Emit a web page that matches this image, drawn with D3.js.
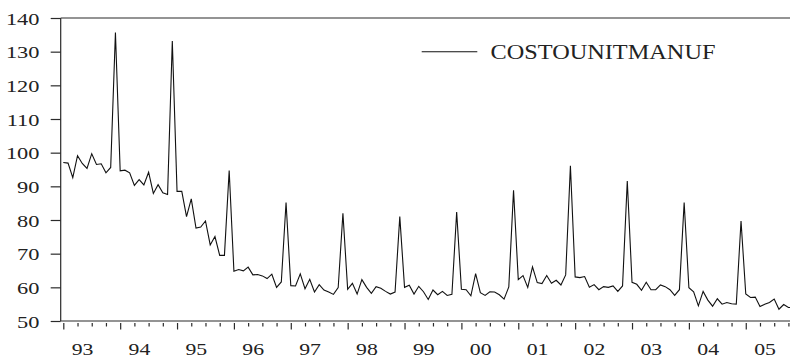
<!DOCTYPE html>
<html>
<head>
<meta charset="utf-8">
<script src="https://cdn.jsdelivr.net/npm/d3@7"></script>
<style>
  html, body { margin: 0; padding: 0; background: #fff; overflow: hidden; }
  svg { display: block; }
  text { font-family: "Liberation Serif", "Times New Roman", serif; fill: #222; }
</style>
</head>
<body>
<svg id="chart" width="790" height="359"></svg>
<script>
// ---- data (monthly, starting Jan 1993) ----
const seriesName = "COSTOUNITMANUF";
const startYear = 1993;
const costUnitManuf = [
  97.1, 96.9, 92.6, 99.1, 96.8, 95.3, 99.7, 96.5, 96.7, 94.0, 95.6, 135.7,   // 93
  94.6, 94.8, 94.0, 90.3, 92.0, 90.4, 94.2, 87.9, 90.5, 88.1, 87.6, 133.2,   // 94
  88.5, 88.5, 81.0, 86.3, 77.6, 77.9, 79.7, 72.6, 75.1, 69.5, 69.5, 94.7,    // 95
  64.8, 65.3, 64.9, 66.0, 63.7, 63.8, 63.4, 62.6, 63.9, 60.0, 61.6, 85.2,    // 96
  60.5, 60.4, 64.0, 59.6, 62.4, 58.6, 60.8, 59.2, 58.6, 57.9, 59.9, 82.0,    // 97
  59.4, 61.2, 58.0, 62.3, 60.0, 58.2, 60.2, 59.7, 58.8, 58.0, 58.6, 81.0,    // 98
  60.0, 60.6, 58.0, 60.3, 58.7, 56.4, 59.2, 57.8, 58.8, 57.6, 57.9, 82.4,    // 99
  59.4, 59.3, 57.5, 64.1, 58.4, 57.6, 58.7, 58.6, 57.8, 56.5, 60.1, 88.8,    // 00
  62.3, 63.5, 60.0, 66.1, 61.4, 61.1, 63.5, 61.2, 62.1, 60.7, 63.7, 96.1,    // 01
  63.1, 62.9, 63.2, 60.0, 60.8, 59.3, 60.2, 60.0, 60.4, 58.8, 60.4, 91.6,    // 02
  61.5, 60.9, 59.1, 61.5, 59.3, 59.3, 60.7, 60.2, 59.3, 57.6, 59.3, 85.2,    // 03
  59.9, 58.7, 54.5, 58.8, 56.2, 54.4, 56.6, 55.0, 55.5, 55.1, 55.0, 79.7,    // 04
  58.0, 57.0, 57.1, 54.3, 55.0, 55.5, 56.5, 53.5, 54.9, 54.0, 54.0           // 05
];
const yearLabels = ["93","94","95","96","97","98","99","00","01","02","03","04","05"];
const yTicks = [50, 60, 70, 80, 90, 100, 110, 120, 130, 140];

// ---- layout ----
const svg = d3.select("#chart");
const plotLeft = 60.7, plotTop = 18, plotBottom = 321;
const x = d3.scaleLinear().domain([0, 155]).range([63.3, 797.9]);
const y = d3.scaleLinear().domain([50, 140]).range([plotBottom, plotTop]);
const axisColor = "#2a2a2a";

// frame: left axis, bottom axis, top line
svg.append("line").attr("x1", plotLeft).attr("x2", plotLeft).attr("y1", plotTop).attr("y2", plotBottom)
  .attr("stroke", axisColor).attr("stroke-width", 1.2);
svg.append("line").attr("x1", plotLeft).attr("x2", 790).attr("y1", plotBottom).attr("y2", plotBottom)
  .attr("stroke", axisColor).attr("stroke-width", 1.2);
svg.append("line").attr("x1", plotLeft).attr("x2", 790).attr("y1", plotTop).attr("y2", plotTop)
  .attr("stroke", axisColor).attr("stroke-width", 1.2);

// y axis
const yAxis = svg.append("g").attr("transform", `translate(${plotLeft},0)`)
  .call(d3.axisLeft(y).tickValues(yTicks).tickSizeInner(10).tickSizeOuter(0).tickPadding(11));
yAxis.select(".domain").remove();
yAxis.selectAll(".tick line").attr("stroke", axisColor).attr("stroke-width", 1.2);
yAxis.selectAll(".tick text")
  .attr("x", null).attr("dy", null)
  .attr("transform", "translate(-21.2,6.2) scale(1.28,1)")
  .attr("text-anchor", "end")
  .style("font-size", "17.5px").style("font-family", "'Liberation Serif', serif").attr("fill", "#222");

// x axis ticks (major yearly, minor quarterly)
const nYears = yearLabels.length;
const majorTicks = d3.range(nYears).map(k => k * 12);
const minorTicks = d3.range(0, 156, 3).filter(m => m % 12 !== 0);
const xMajor = svg.append("g").attr("transform", `translate(0,${plotBottom + 2})`)
  .call(d3.axisBottom(x).tickValues(majorTicks).tickSizeInner(6.5).tickSizeOuter(0).tickFormat(""));
const xMinor = svg.append("g").attr("transform", `translate(0,${plotBottom + 2})`)
  .call(d3.axisBottom(x).tickValues(minorTicks).tickSizeInner(3.5).tickSizeOuter(0).tickFormat(""));
[xMajor, xMinor].forEach(g => {
  g.select(".domain").remove();
  g.selectAll(".tick line").attr("stroke", axisColor).attr("stroke-width", 1.2);
});

// year labels
svg.append("g").selectAll("text").data(yearLabels).join("text")
  .attr("transform", (d, k) => `translate(${x(k * 12 + 4.07)},355) scale(1.28,1)`)
  .attr("text-anchor", "middle")
  .style("font-size", "17px")
  .text(d => d);

// series line
const line = d3.line().x((d, i) => x(i)).y(d => y(d));
svg.append("path").datum(costUnitManuf)
  .attr("d", line)
  .attr("fill", "none").attr("stroke", "#111").attr("stroke-width", 1.1)
  .attr("stroke-linejoin", "miter");

// legend
svg.append("line").attr("x1", 421.7).attr("x2", 477.3).attr("y1", 51.7).attr("y2", 51.7)
  .attr("stroke", "#111").attr("stroke-width", 1.1);
svg.append("text")
  .attr("transform", "translate(490.5,59.3) scale(1.13,1)")
  .style("font-size", "21.5px")
  .text(seriesName);
</script>
</body>
</html>
